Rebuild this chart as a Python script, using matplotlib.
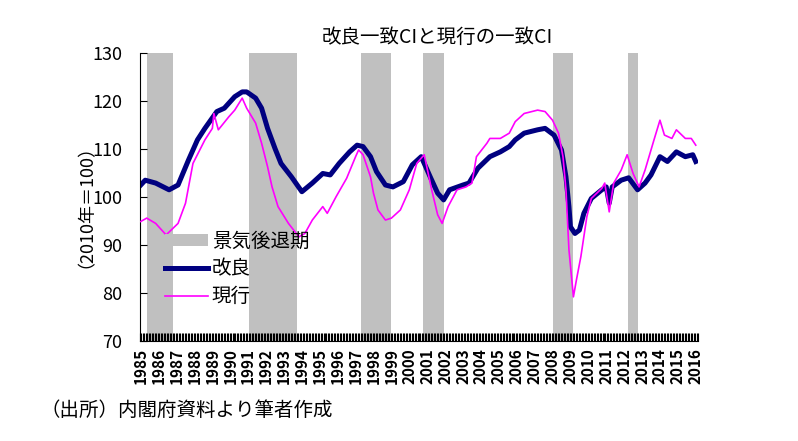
import matplotlib
matplotlib.use('Agg')
import matplotlib.pyplot as plt
import numpy as np

plt.rcParams['font.family'] = ['Noto Sans CJK JP', 'DejaVu Sans']

# 改良一致CI
kairyo_months = ['1985-01', '1985-04', '1985-11', '1986-08', '1987-02', '1987-09', '1988-03',
                 '1988-08', '1989-04', '1989-09', '1990-04', '1990-09', '1990-12', '1991-06',
                 '1991-10', '1992-02', '1992-07', '1992-11', '1993-06', '1994-01', '1994-08',
                 '1995-03', '1995-08', '1996-02', '1996-09', '1997-02', '1997-06', '1997-11',
                 '1998-03', '1998-09', '1999-02', '1999-09', '2000-03', '2000-09', '2001-03',
                 '2001-08', '2001-12', '2002-04', '2003-01', '2003-05', '2003-11', '2004-07',
                 '2005-02', '2005-08', '2005-12', '2006-06', '2007-03', '2007-08', '2008-02',
                 '2008-07', '2008-10', '2008-12', '2009-01', '2009-04', '2009-07', '2009-10',
                 '2010-03', '2010-10', '2011-01', '2011-03', '2011-05', '2011-11', '2012-04',
                 '2012-10', '2013-03', '2013-07', '2014-01', '2014-06', '2014-12', '2015-06',
                 '2015-11', '2016-01']
kairyo_values = [102.5, 103.5, 102.9, 101.5, 102.5, 107.7, 111.9,
                 114.3, 117.8, 118.5, 120.9, 121.9, 121.9, 120.6,
                 118.5, 114.3, 110.1, 107.0, 104.2, 101.1, 102.9,
                 104.9, 104.6, 107.0, 109.4, 110.8, 110.5, 108.4,
                 105.3, 102.5, 102.1, 103.2, 106.7, 108.4, 104.2,
                 100.8, 99.4, 101.5, 102.5, 102.9, 106.0, 108.4,
                 109.4, 110.5, 111.9, 113.3, 114.0, 114.3, 112.9,
                 109.8, 104.2, 98.0, 93.8, 92.4, 93.1, 96.6,
                 99.7, 101.5, 102.1, 98.7, 102.1, 103.5, 104.0,
                 101.5, 102.9, 104.6, 108.4, 107.4, 109.4, 108.4,
                 108.8, 107.4]

# 現行の一致CI
genko_months = ['1985-01', '1985-05', '1985-11', '1986-06', '1987-02', '1987-07', '1987-12',
                '1988-08', '1989-01', '1989-02', '1989-05', '1989-12', '1990-04', '1990-09',
                '1990-12', '1991-06', '1991-10', '1992-02', '1992-05', '1992-09', '1993-04',
                '1993-11', '1994-03', '1994-08', '1995-03', '1995-06', '1995-12', '1996-07',
                '1997-01', '1997-03', '1997-06', '1997-11', '1998-01', '1998-04', '1998-09',
                '1999-01', '1999-07', '2000-01', '2000-06', '2000-11', '2001-04', '2001-08',
                '2001-11', '2002-03', '2002-09', '2003-03', '2003-07', '2003-10', '2004-05',
                '2004-07', '2005-02', '2005-08', '2005-12', '2006-06', '2007-03', '2007-08',
                '2008-01', '2008-05', '2008-08', '2008-10', '2008-12', '2009-03', '2009-05',
                '2009-08', '2009-12', '2010-03', '2010-10', '2010-12', '2011-03', '2011-06',
                '2011-11', '2012-03', '2012-07', '2012-11', '2013-03', '2013-09', '2014-01',
                '2014-04', '2014-09', '2014-12', '2015-06', '2015-10', '2016-01']
genko_values = [94.9, 95.6, 94.5, 92.1, 94.5, 98.7, 107.0,
                111.9, 114.3, 117.4, 114.0, 116.7, 118.1, 120.6,
                118.5, 115.4, 111.2, 106.3, 102.1, 98.0, 94.5,
                91.7, 92.4, 95.2, 98.0, 96.6, 100.1, 103.9,
                108.4, 109.8, 108.8, 104.2, 100.8, 97.3, 95.2,
                95.6, 97.3, 101.5, 107.0, 108.8, 101.5, 96.3,
                94.5, 98.0, 101.5, 102.1, 102.9, 108.4, 111.2,
                112.2, 112.2, 113.3, 115.7, 117.4, 118.1, 117.8,
                116.0, 113.3, 108.4, 101.5, 89.0, 79.2, 82.7,
                87.6, 95.9, 99.7, 101.8, 102.9, 96.9, 102.9,
                105.6, 108.8, 104.9, 102.1, 105.6, 111.9, 116.0,
                112.9, 112.2, 114.0, 112.2, 112.2, 110.8]

# 景気後退期 (山 -> 谷)
recession_peaks = ['1985-06', '1991-02', '1997-05', '2000-11', '2008-02', '2012-04']
recession_troughs = ['1986-11', '1993-10', '1999-01', '2002-01', '2009-03', '2012-11']

years = list(range(1985, 2017))
n_months = 374


def month_index(s):
    y, m = s.split('-')
    return (int(y) - 1985) * 12 + int(m) - 1


fig = plt.figure(figsize=(7.98, 4.41), dpi=100)
ax = fig.add_axes([140 / 798, 1 - 341 / 441, 558 / 798, 288 / 441])

for i, (p, t) in enumerate(zip(recession_peaks, recession_troughs)):
    ax.axvspan(month_index(p), month_index(t), color='#c0c0c0', lw=0,
               label='景気後退期' if i == 0 else None, zorder=1)

kx = np.array([month_index(s) for s in kairyo_months]) + 0.5
gx = np.array([month_index(s) for s in genko_months]) + 0.5
ax.plot(kx, kairyo_values, color='#000080', lw=3.6, label='改良', zorder=2)
ax.plot(gx, genko_values, color='#ff00ff', lw=1.2, label='現行', zorder=3)

ax.set_xlim(0, n_months)
ax.set_ylim(70, 130)
ax.set_yticks(np.arange(70, 131, 10))
ax.tick_params(axis='y', direction='in', length=5, labelsize=13, pad=13, colors='black')

ax.set_xticks(np.arange(0, n_months + 1), minor=True)
ax.set_xticks([(y - 1985) * 12 + 0.5 for y in years])
ax.set_xticklabels([str(y) for y in years], rotation=90, fontsize=11, fontweight='bold')
ax.tick_params(axis='x', which='major', length=0, pad=5)
ax.tick_params(axis='x', which='minor', direction='in', length=6, width=0.8)

for s in ['top', 'right']:
    ax.spines[s].set_visible(False)

leg = ax.legend(loc='center left', bbox_to_anchor=(0.045, 0.25), frameon=False,
                fontsize=14, handlelength=2.2, handletextpad=0.2, labelspacing=0.35,
                borderpad=0, borderaxespad=0, handleheight=0.55)

fig.text(77 / 798, 1 - 197 / 441, '（2010年＝100）', rotation=90, ha='center', va='center',
         fontsize=13)
fig.text(437 / 798, 1 - 37 / 441, '改良一致CIと現行の一致CI', ha='center', va='center',
         fontsize=14)
fig.text(40 / 798, 1 - 410 / 441, '（出所）内閣府資料より筆者作成', ha='left', va='center',
         fontsize=14)

fig.savefig('out.png', dpi=100)
